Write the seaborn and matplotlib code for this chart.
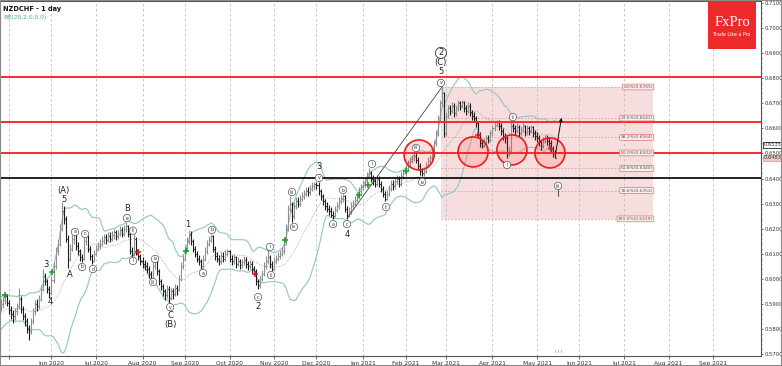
import matplotlib
matplotlib.use("Agg")
import matplotlib.pyplot as plt
from matplotlib.collections import LineCollection
from matplotlib.patches import Rectangle, Ellipse
import numpy as np
import pandas as pd
import seaborn as sns

# daily NZDCHF bars (first visible bar 2020-04-27)
warmup_start = "2020-03-30"
warmup_close = [0.5780, 0.5810, 0.5795, 0.5830, 0.5850, 0.5820, 0.5865, 0.5890, 0.5905, 0.5880,
                0.5860, 0.5895, 0.5910, 0.5875, 0.5850, 0.5830, 0.5860, 0.5885, 0.5870, 0.5890]

bar_close = [
    0.5900, 0.5915, 0.5930, 0.5905, 0.5875, 0.5860, 0.5850, 0.5870, 0.5890, 0.5920,
    0.5880, 0.5850, 0.5830, 0.5800, 0.5790, 0.5830, 0.5870, 0.5900, 0.5890, 0.5920,
    0.5960, 0.6010, 0.5990, 0.5960, 0.5945, 0.5995, 0.6050, 0.6110, 0.6140, 0.6200,
    0.6270, 0.6240, 0.6160, 0.6080, 0.6120, 0.6160, 0.6180, 0.6130, 0.6110, 0.6085,
    0.6080, 0.6150, 0.6170, 0.6120, 0.6090, 0.6070, 0.6100, 0.6120, 0.6130, 0.6140,
    0.6150, 0.6165, 0.6155, 0.6170, 0.6160, 0.6175, 0.6185, 0.6170, 0.6180, 0.6195,
    0.6180, 0.6200, 0.6210, 0.6180, 0.6110, 0.6095, 0.6160, 0.6110, 0.6090, 0.6070,
    0.6060, 0.6050, 0.6040, 0.6020, 0.6005, 0.6050, 0.6070, 0.6030, 0.5990, 0.5970,
    0.5950, 0.5935, 0.5960, 0.5925, 0.5950, 0.5940, 0.5965, 0.5955, 0.6000, 0.6050,
    0.6080, 0.6120, 0.6150, 0.6180, 0.6150, 0.6120, 0.6100, 0.6080, 0.6070, 0.6050,
    0.6080, 0.6110, 0.6140, 0.6155, 0.6170, 0.6120, 0.6090, 0.6080, 0.6070, 0.6090,
    0.6080, 0.6100, 0.6110, 0.6080, 0.6070, 0.6085, 0.6060, 0.6070, 0.6055, 0.6065,
    0.6075, 0.6060, 0.6050, 0.6060, 0.6040, 0.6030, 0.5990, 0.5975, 0.6000, 0.6020,
    0.6050, 0.6070, 0.6085, 0.6060, 0.6040, 0.6070, 0.6080, 0.6090, 0.6100, 0.6110,
    0.6140, 0.6200, 0.6280, 0.6300, 0.6250, 0.6290, 0.6310, 0.6300, 0.6320, 0.6330,
    0.6340, 0.6350, 0.6345, 0.6360, 0.6370, 0.6380, 0.6375, 0.6350, 0.6330, 0.6310,
    0.6290, 0.6280, 0.6270, 0.6255, 0.6250, 0.6275, 0.6290, 0.6310, 0.6320, 0.6330,
    0.6280, 0.6250, 0.6270, 0.6290, 0.6300, 0.6315, 0.6330, 0.6350, 0.6365, 0.6375,
    0.6390, 0.6410, 0.6420, 0.6400, 0.6390, 0.6380, 0.6400, 0.6380, 0.6360, 0.6340,
    0.6320, 0.6340, 0.6360, 0.6380, 0.6370, 0.6390, 0.6400, 0.6380, 0.6410, 0.6420,
    0.6440, 0.6460, 0.6470, 0.6480, 0.6490, 0.6475, 0.6450, 0.6430, 0.6420, 0.6430,
    0.6450, 0.6470, 0.6480, 0.6500, 0.6540, 0.6580, 0.6640, 0.6700, 0.6740, 0.6580,
    0.6650, 0.6680, 0.6670, 0.6690, 0.6660, 0.6680, 0.6700, 0.6690, 0.6705, 0.6680,
    0.6670, 0.6690, 0.6665, 0.6650, 0.6640, 0.6620, 0.6575, 0.6540, 0.6530, 0.6545,
    0.6560, 0.6555, 0.6580, 0.6600, 0.6615, 0.6625, 0.6610, 0.6590, 0.6570, 0.6560,
    0.6500, 0.6510, 0.6610, 0.6600, 0.6590, 0.6605, 0.6580, 0.6595, 0.6610, 0.6585,
    0.6600, 0.6590, 0.6605, 0.6580, 0.6570, 0.6560, 0.6545, 0.6530, 0.6550, 0.6560,
    0.6550, 0.6540, 0.6520, 0.6500, 0.6483,
]

bar_high = [
    0.5920, 0.5930, 0.5945, 0.5940, 0.5915, 0.5890, 0.5875, 0.5885, 0.5905, 0.5965,
    0.5930, 0.5890, 0.5865, 0.5845, 0.5815, 0.5845, 0.5885, 0.5915, 0.5920, 0.5935,
    0.5975, 0.6040, 0.6025, 0.6000, 0.5970, 0.6010, 0.6065, 0.6125, 0.6160, 0.6220,
    0.6305, 0.6290, 0.6250, 0.6175, 0.6140, 0.6175, 0.6195, 0.6190, 0.6145, 0.6120,
    0.6100, 0.6165, 0.6185, 0.6175, 0.6130, 0.6100, 0.6115, 0.6135, 0.6145, 0.6160,
    0.6170, 0.6180, 0.6180, 0.6185, 0.6185, 0.6190, 0.6200, 0.6195, 0.6195, 0.6210,
    0.6205, 0.6215, 0.6225, 0.6215, 0.6190, 0.6125, 0.6180, 0.6165, 0.6120, 0.6100,
    0.6085, 0.6075, 0.6065, 0.6050, 0.6030, 0.6065, 0.6085, 0.6075, 0.6040, 0.6000,
    0.5980, 0.5960, 0.5975, 0.5970, 0.5965, 0.5965, 0.5980, 0.5975, 0.6015, 0.6065,
    0.6095, 0.6135, 0.6165, 0.6195, 0.6190, 0.6160, 0.6130, 0.6110, 0.6095, 0.6080,
    0.6095, 0.6125, 0.6155, 0.6170, 0.6180, 0.6175, 0.6130, 0.6105, 0.6095, 0.6105,
    0.6105, 0.6115, 0.6120, 0.6115, 0.6095, 0.6100, 0.6090, 0.6085, 0.6080, 0.6080,
    0.6090, 0.6085, 0.6070, 0.6075, 0.6070, 0.6050, 0.6040, 0.6000, 0.6015, 0.6035,
    0.6065, 0.6090, 0.6120, 0.6095, 0.6070, 0.6085, 0.6095, 0.6105, 0.6115, 0.6125,
    0.6160, 0.6220, 0.6295, 0.6330, 0.6305, 0.6305, 0.6325, 0.6325, 0.6335, 0.6345,
    0.6355, 0.6365, 0.6365, 0.6375, 0.6385, 0.6388, 0.6385, 0.6385, 0.6360, 0.6340,
    0.6320, 0.6305, 0.6295, 0.6285, 0.6270, 0.6290, 0.6305, 0.6325, 0.6335, 0.6340,
    0.6335, 0.6290, 0.6285, 0.6305, 0.6315, 0.6330, 0.6345, 0.6365, 0.6380, 0.6390,
    0.6405, 0.6425, 0.6440, 0.6430, 0.6415, 0.6405, 0.6415, 0.6410, 0.6390, 0.6370,
    0.6350, 0.6355, 0.6375, 0.6395, 0.6395, 0.6405, 0.6415, 0.6410, 0.6425, 0.6435,
    0.6455, 0.6475, 0.6485, 0.6495, 0.6505, 0.6500, 0.6485, 0.6460, 0.6440, 0.6445,
    0.6465, 0.6485, 0.6495, 0.6515, 0.6555, 0.6595, 0.6655, 0.6715, 0.6765, 0.6745,
    0.6665, 0.6695, 0.6695, 0.6705, 0.6700, 0.6695, 0.6712, 0.6710, 0.6715, 0.6710,
    0.6695, 0.6705, 0.6700, 0.6675, 0.6665, 0.6650, 0.6630, 0.6585, 0.6555, 0.6560,
    0.6575, 0.6575, 0.6595, 0.6615, 0.6630, 0.6635, 0.6635, 0.6620, 0.6600, 0.6580,
    0.6570, 0.6530, 0.6625, 0.6620, 0.6615, 0.6620, 0.6615, 0.6610, 0.6620, 0.6615,
    0.6612, 0.6610, 0.6615, 0.6610, 0.6595, 0.6585, 0.6575, 0.6555, 0.6565, 0.6575,
    0.6575, 0.6565, 0.6555, 0.6530, 0.6515,
]

bar_low = [
    0.5870, 0.5885, 0.5900, 0.5890, 0.5860, 0.5840, 0.5825, 0.5835, 0.5855, 0.5880,
    0.5865, 0.5835, 0.5810, 0.5785, 0.5756, 0.5780, 0.5820, 0.5855, 0.5870, 0.5880,
    0.5910, 0.5950, 0.5975, 0.5945, 0.5925, 0.5940, 0.5985, 0.6040, 0.6095, 0.6130,
    0.6190, 0.6220, 0.6145, 0.6045, 0.6070, 0.6110, 0.6140, 0.6115, 0.6095, 0.6070,
    0.6065, 0.6075, 0.6135, 0.6105, 0.6075, 0.6060, 0.6065, 0.6090, 0.6110, 0.6120,
    0.6130, 0.6140, 0.6140, 0.6145, 0.6145, 0.6150, 0.6160, 0.6155, 0.6160, 0.6170,
    0.6165, 0.6170, 0.6185, 0.6165, 0.6100, 0.6085, 0.6090, 0.6095, 0.6075, 0.6055,
    0.6045, 0.6035, 0.6025, 0.6005, 0.5995, 0.6000, 0.6040, 0.6015, 0.5975, 0.5955,
    0.5930, 0.5915, 0.5925, 0.5905, 0.5915, 0.5920, 0.5930, 0.5935, 0.5950, 0.5990,
    0.6040, 0.6070, 0.6110, 0.6140, 0.6135, 0.6105, 0.6085, 0.6065, 0.6055, 0.6040,
    0.6045, 0.6070, 0.6100, 0.6130, 0.6145, 0.6105, 0.6075, 0.6065, 0.6055, 0.6060,
    0.6065, 0.6070, 0.6090, 0.6065, 0.6055, 0.6060, 0.6045, 0.6050, 0.6040, 0.6045,
    0.6055, 0.6045, 0.6035, 0.6040, 0.6025, 0.6015, 0.5975, 0.5960, 0.5965, 0.5990,
    0.6010, 0.6040, 0.6060, 0.6045, 0.6030, 0.6035, 0.6060, 0.6070, 0.6080, 0.6090,
    0.6100, 0.6135, 0.6190, 0.6265, 0.6225, 0.6240, 0.6280, 0.6285, 0.6290, 0.6310,
    0.6320, 0.6330, 0.6330, 0.6335, 0.6350, 0.6355, 0.6360, 0.6335, 0.6315, 0.6295,
    0.6275, 0.6265, 0.6255, 0.6245, 0.6240, 0.6245, 0.6265, 0.6280, 0.6300, 0.6305,
    0.6265, 0.6240, 0.6245, 0.6260, 0.6280, 0.6290, 0.6305, 0.6320, 0.6340, 0.6355,
    0.6365, 0.6380, 0.6400, 0.6385, 0.6375, 0.6365, 0.6370, 0.6365, 0.6345, 0.6325,
    0.6310, 0.6315, 0.6330, 0.6350, 0.6355, 0.6360, 0.6380, 0.6365, 0.6370, 0.6400,
    0.6410, 0.6430, 0.6450, 0.6460, 0.6470, 0.6460, 0.6435, 0.6415, 0.6410, 0.6410,
    0.6420, 0.6440, 0.6460, 0.6470, 0.6490, 0.6530, 0.6570, 0.6630, 0.6690, 0.6565,
    0.6570, 0.6640, 0.6655, 0.6660, 0.6645, 0.6650, 0.6670, 0.6675, 0.6680, 0.6665,
    0.6655, 0.6660, 0.6650, 0.6635, 0.6625, 0.6605, 0.6560, 0.6525, 0.6520, 0.6525,
    0.6535, 0.6540, 0.6545, 0.6570, 0.6590, 0.6605, 0.6595, 0.6575, 0.6555, 0.6540,
    0.6482, 0.6490, 0.6505, 0.6585, 0.6575, 0.6580, 0.6565, 0.6570, 0.6585, 0.6570,
    0.6575, 0.6575, 0.6580, 0.6565, 0.6555, 0.6545, 0.6530, 0.6515, 0.6520, 0.6540,
    0.6535, 0.6525, 0.6505, 0.6485, 0.6480,
]

red_levels = [0.6803, 0.6624, 0.6503]
black_level = 0.6403

fib_start, fib_end = 217.5, 322.3
fib_pct = ["0.0%", "23.6%", "38.2%", "50.0%", "61.8%", "78.6%", "100.0%"]
fib_price = [0.6765, 0.6641, 0.6564, 0.6502, 0.6440, 0.6352, 0.6239]

plain_x = [30.9, 31.2, 22.3, 24.3, 34.2, 62.3, 83.6, 83.6, 92.5, 127.1, 157.2, 171.1, 217.5, 217.5]
plain_y = [0.6354, 0.6318, 0.6055, 0.5911, 0.6019, 0.6282, 0.5852, 0.5816, 0.6215, 0.5891,
           0.6446, 0.6175, 0.6825, 0.6861]
plain_text = ["(A)", "5", "3", "4", "A", "B", "C", "(B)", "1", "2", "3", "4", "5", "(C)"]

circ_x = [36.6, 40.1, 41.6, 45.5, 62.3, 65.3, 65.3, 76.2, 75.2, 83.6, 99.9, 104.3, 127.1,
          133.0, 133.5, 143.9, 144.9, 157.2, 164.2, 169.1, 171.1, 183.4, 190.4, 205.2, 208.2,
          217.5, 250.2, 253.1, 275.4]
circ_y = [0.6187, 0.6047, 0.6179, 0.6039, 0.6242, 0.6192, 0.6071, 0.6079, 0.5987, 0.5887,
          0.6023, 0.6195, 0.5927, 0.6127, 0.6015, 0.6346, 0.6207, 0.6402, 0.6218, 0.6354,
          0.6218, 0.6458, 0.6286, 0.6522, 0.6386, 0.6781, 0.6454, 0.6645, 0.6370]
circ_text = ["a", "b", "c", "d", "e", "ii", "i", "iv", "iii", "v", "a", "b", "c",
             "i", "ii", "iii", "iv", "v", "a", "b", "c", "i", "ii", "iii", "iv",
             "v", "i", "ii", "iii"]

buy_x = [2.0, 25.3, 91.5, 140.4, 177.0, 181.5, 200.2]
buy_y = [0.5935, 0.6027, 0.6111, 0.6155, 0.6334, 0.6374, 0.6430]
sell_x = [67.8, 125.6, 235.8, 271.9]
sell_y = [0.6107, 0.6019, 0.6573, 0.6518]

ring_x = [206.7, 233.4, 252.6, 271.4]
ring_y = [0.6494, 0.6506, 0.6514, 0.6502]

trend_x = [171.0, 218.5]
trend_y = [0.6240, 0.6770]

price_tags = ["0.6535", "0.6483"]
price_tag_y = [0.6535, 0.6483]

assert len(bar_close) == len(bar_high) == len(bar_low)

sns.set_theme(style="white")
plt.rcParams["font.family"] = ["DejaVu Sans"]

fig = plt.figure(figsize=(7.82, 3.66), dpi=100)
ax = fig.add_axes([0.0, 10 / 366, 761 / 782, 355 / 366])

n = len(bar_close)
opens = [warmup_close[-1]] + bar_close[:-1]

# fibonacci box
ax.add_patch(Rectangle((fib_start, fib_price[-1]), fib_end - fib_start, fib_price[0] - fib_price[-1],
                       facecolor="#f7dede", edgecolor="none", zorder=0))
for pct, pr in zip(fib_pct, fib_price):
    ax.plot([fib_start, fib_end], [pr, pr], color="#e59a9a", lw=0.6, ls=(0, (2, 2)), zorder=1)
    ax.text(fib_end, pr, f"{pct}({pr:.4f})", fontsize=3.2, color="#555555", ha="right", va="center",
            bbox=dict(boxstyle="round,pad=0.2", fc="#fbeeee", ec="#e07070", lw=0.5), zorder=6)

# bollinger bands
all_close = pd.Series(warmup_close + bar_close, index=np.arange(-len(warmup_close), n))
mid = all_close.rolling(20).mean()
sd = all_close.rolling(20).std(ddof=0)
bb = pd.DataFrame({"x": all_close.index, "mid": mid, "up": mid + 2 * sd, "dn": mid - 2 * sd}).dropna()
sns.lineplot(data=bb, x="x", y="up", ax=ax, color="#93c4c4", lw=0.8, zorder=2)
sns.lineplot(data=bb, x="x", y="dn", ax=ax, color="#93c4c4", lw=0.8, zorder=2)
sns.lineplot(data=bb, x="x", y="mid", ax=ax, color="#8a8a8a", lw=0.5, ls=(0, (1, 1.5)), zorder=2)

# ohlc bars
segs, cols = [], []
for i in range(n):
    c = "#8f8f8f" if bar_close[i] >= opens[i] else "#1c1c1c"
    segs += [[(i, bar_low[i]), (i, bar_high[i])],
             [(i - 0.5, opens[i]), (i, opens[i])],
             [(i, bar_close[i]), (i + 0.5, bar_close[i])]]
    cols += [c, c, c]
ax.add_collection(LineCollection(segs, colors=cols, linewidths=0.8, zorder=3))

# levels
for lv in red_levels:
    ax.axhline(lv, color="#ff2a2a", lw=1.4, zorder=4)
ax.axhline(black_level, color="#111111", lw=1.3, zorder=4)

ax.plot(trend_x, trend_y, color="#444444", lw=0.6, zorder=4)

for rx, ry in zip(ring_x, ring_y):
    ax.add_patch(Ellipse((rx, ry), 30 / 2.023, 30 / 2507, facecolor=(1, 0.1, 0.1, 0.13),
                         edgecolor="#ee1c1c", lw=1.2, zorder=5))

ax.scatter(buy_x, buy_y, marker="+", s=14, color="#1a9a1a", linewidths=1.1, zorder=6)
ax.scatter(sell_x, sell_y, marker="+", s=14, color="#d02020", linewidths=1.1, zorder=6)

for tx, ty, t in zip(plain_x, plain_y, plain_text):
    ax.text(tx, ty, t, fontsize=6, ha="center", va="center", color="#222222", zorder=7)
for tx, ty, t in zip(circ_x, circ_y, circ_text):
    ax.text(tx, ty, t, fontsize=3.4, ha="center", va="center", color="#333333", zorder=7,
            bbox=dict(boxstyle="circle,pad=0.25", fc="white", ec="#555555", lw=0.5))
ax.text(217.5, 0.6901, "2", fontsize=6, ha="center", va="center", color="#222222", zorder=7,
        bbox=dict(boxstyle="circle,pad=0.12", fc="white", ec="#333333", lw=0.6))
ax.plot([275.4, 275.4], [0.6355, 0.6330], color="#333333", lw=0.6, zorder=7)

ax.annotate("", xy=(277.3, 0.6653), xytext=(274, 0.6490),
            arrowprops=dict(arrowstyle="-|>", color="#111111", lw=0.7, mutation_scale=5), zorder=8)

# month axis: first business day of each month, May 2020 .. Sep 2021
days = pd.bdate_range(warmup_start, "2021-09-30")
pos = pd.Series(np.arange(len(days)) - len(warmup_close), index=days)
month_first = pos.groupby([days.year, days.month]).first()
tick_pos, tick_lab = [], []
for (yr, mo), p in month_first.items():
    if p < 0:
        continue
    tick_pos.append(p)
    tick_lab.append("" if (yr, mo) == (2020, 5) else pd.Timestamp(int(yr), int(mo), 1).strftime("%b %Y"))
for p in tick_pos:
    ax.axvline(p, color="#bdbdbd", lw=0.6, ls=(0, (3, 3)), zorder=0.5)

ax.set_xlim(-0.45, -0.45 + 761 / 2.023)
ax.set_ylim(0.5692, 0.7108)
ax.set_xticks(tick_pos)
ax.set_xticklabels(tick_lab)
ax.yaxis.tick_right()
yt = np.arange(0.57, 0.7101, 0.01)
ax.set_yticks(yt)
ax.set_yticklabels([f"{v:.4f}" for v in yt])
ax.set_yticks(np.arange(0.57, 0.711, 0.002), minor=True)
ax.tick_params(axis="x", labelsize=4.2, colors="#333333", length=2, width=0.5, pad=1.5, bottom=True)
ax.tick_params(axis="y", labelsize=3.8, colors="#333333", length=1.5, width=0.5, pad=1)
ax.tick_params(axis="y", which="minor", length=1.0, width=0.4, colors="#333333")
ax.set_xlabel("")
ax.set_ylabel("")
for s in ax.spines.values():
    s.set_color("#555555")
    s.set_linewidth(0.8)

for txt, ty, fc, ec in zip(price_tags, price_tag_y, ["white", "#f3c7c7"], ["#222222", "#e0a0a0"]):
    ax.annotate(txt, xy=(1.003, ty), xycoords=("axes fraction", "data"), fontsize=3.7,
                color="#333333", ha="left", va="center", annotation_clip=False,
                bbox=dict(boxstyle="square,pad=0.12", fc=fc, ec=ec, lw=0.6))

ax.text(0.004, 0.985, "NZDCHF - 1 day", transform=ax.transAxes, fontsize=4.8, fontweight="bold",
        color="#111111", ha="left", va="top")
ax.text(0.005, 0.96, "BB(20,2.0,0,0)", transform=ax.transAxes, fontsize=4.3, color="#4fa3a3",
        ha="left", va="top")
ax.text(275.5, 0.5700, "( / )", fontsize=3, color="#444444", ha="center", va="bottom")

# logo
fig.patches.append(Rectangle((708 / 782, 1 - 49 / 366), 48 / 782, 49 / 366, transform=fig.transFigure,
                             facecolor="#ec2a2a", edgecolor="none", zorder=10))
fig.text(732 / 782, 1 - 22 / 366, "FxPro", fontsize=10.5, color="white", ha="center", va="center",
         family=["Liberation Serif", "DejaVu Serif"], zorder=11)
fig.text(732 / 782, 1 - 34 / 366, "Trade Like a Pro", fontsize=3.4, color="white", ha="center",
         va="center", zorder=11)
fig.patches.append(Rectangle((0, 0), 1, 1, transform=fig.transFigure, fill=False,
                             edgecolor="#8a8a8a", lw=1.5, zorder=12))

fig.savefig("out.png", dpi=100)
